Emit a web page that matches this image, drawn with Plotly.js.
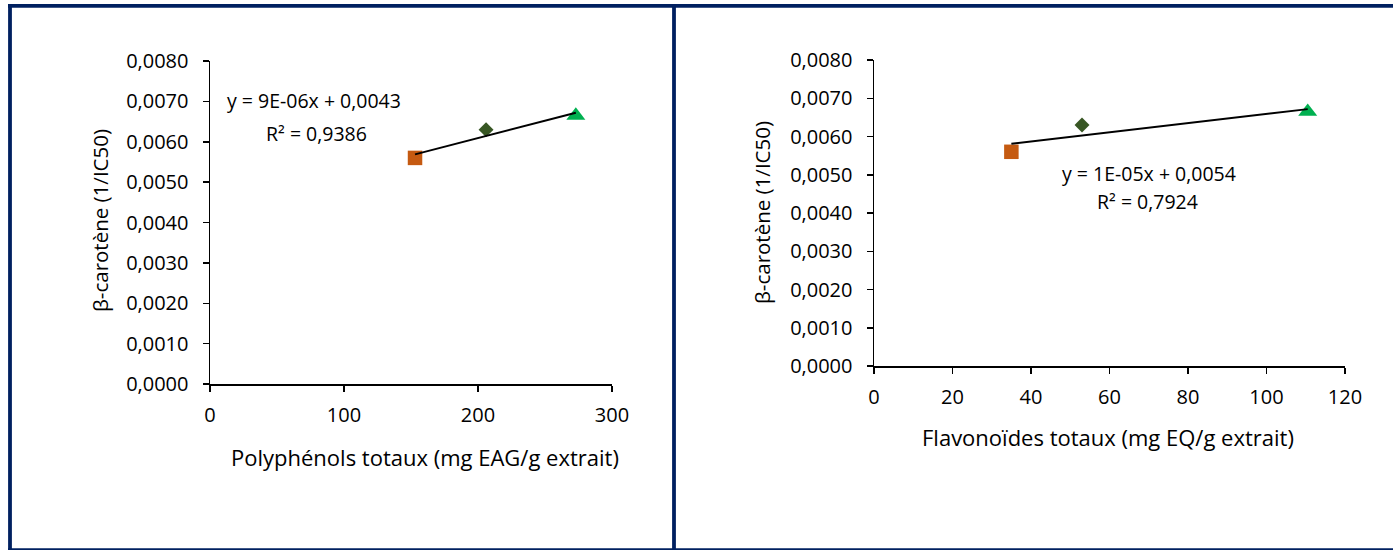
<!DOCTYPE html>
<html><head><meta charset="utf-8">
<script src="https://cdn.plot.ly/plotly-3.0.1.min.js"></script>
<style>html,body{margin:0;padding:0;background:#fff}#chart{width:1393px;height:550px}</style>
</head><body><div id="chart"></div><script>
// ---- data ----
const sampleNames = ['Échantillon 1', 'Échantillon 2', 'Échantillon 3'];
const polyphenols = [153, 206, 273];          // mg EAG/g extrait
const flavonoids = [35, 53, 110.5];           // mg EQ/g extrait
const betaCarotene = [0.0056, 0.0063, 0.00665]; // 1/IC50
const markerSymbols = ['square', 'diamond', 'triangle-up'];
const markerColors = ['#C55A11', '#375623', '#00B050'];
const yTicks = [0, 0.001, 0.002, 0.003, 0.004, 0.005, 0.006, 0.007, 0.008];
const yTickLabels = ['0,0000', '0,0010', '0,0020', '0,0030', '0,0040', '0,0050', '0,0060', '0,0070', '0,0080'];
const xTicksLeft = [0, 100, 200, 300];
const xTicksRight = [0, 20, 40, 60, 80, 100, 120];
const equationLeft = ['y = 9E-06x + 0,0043', 'R² = 0,9386'];
const equationRight = ['y = 1E-05x + 0,0054', 'R² = 0,7924'];
const yTitle = 'β-carotène (1/IC50)';
const xTitleLeft = 'Polyphénols totaux (mg EAG/g extrait)';
const xTitleRight = 'Flavonoïdes totaux (mg EQ/g extrait)';

// ---- helpers ----
const W = 1393, H = 550;
const px = x => x / W;
const py = y => 1 - y / H;
function linfit(xs, ys) {
  const n = xs.length;
  const mx = xs.reduce((a, b) => a + b, 0) / n;
  const my = ys.reduce((a, b) => a + b, 0) / n;
  let sxx = 0, sxy = 0;
  for (let i = 0; i < n; i++) { sxx += (xs[i] - mx) ** 2; sxy += (xs[i] - mx) * (ys[i] - my); }
  const m = sxy / sxx;
  return { m, b: my - m * mx };
}
function trend(xs, ys, xa, ya) {
  const f = linfit(xs, ys);
  const x0 = Math.min(...xs), x1 = Math.max(...xs);
  return { x: [x0, x1], y: [f.m * x0 + f.b, f.m * x1 + f.b], mode: 'lines', type: 'scatter',
    xaxis: xa, yaxis: ya, line: { color: '#000', width: 2 }, hoverinfo: 'skip', showlegend: false };
}
function pts(xs, ys, xa, ya) {
  return { x: xs, y: ys, text: sampleNames, mode: 'markers', type: 'scatter', xaxis: xa, yaxis: ya,
    marker: { symbol: markerSymbols, color: markerColors, size: [14.5, 11.5, 16.5], opacity: 1, line: { width: 0 } },
    showlegend: false };
}

const FONT = 'Open Sans, Noto Sans, sans-serif';
const tickFont = { family: FONT, size: 20, color: '#000' };
const eqFont = { family: FONT, size: 19.5, color: '#000' };
const xTitleFont = { family: FONT, size: 22, color: '#000' };
const yTitleFont = { family: FONT, size: 20.5, color: '#000' };

const baseX = { showline: true, linecolor: '#000', linewidth: 1.5, ticks: 'outside', ticklen: 6,
  tickcolor: '#000', tickwidth: 1.5, showgrid: false, zeroline: false, tickfont: tickFont,
  ticklabelstandoff: 6, fixedrange: true };
const baseY = Object.assign({}, baseX, { range: [0, 0.008], tickvals: yTicks, ticktext: yTickLabels,
  ticklabelstandoff: 10 });

const data = [
  pts(polyphenols, betaCarotene, 'x', 'y'),
  trend(polyphenols, betaCarotene, 'x', 'y'),
  pts(flavonoids, betaCarotene, 'x2', 'y2'),
  trend(flavonoids, betaCarotene, 'x2', 'y2')
];

const navy = '#002060';
const layout = {
  width: W, height: H, margin: { l: 0, r: 0, t: 0, b: 0 },
  paper_bgcolor: '#fff', plot_bgcolor: 'rgba(0,0,0,0)', showlegend: false,
  font: { family: FONT, color: '#000' },
  xaxis: Object.assign({}, baseX, { domain: [px(210), px(612)], range: [0, 300], tickvals: xTicksLeft, anchor: 'y' }),
  yaxis: Object.assign({}, baseY, { domain: [py(384), py(61)], anchor: 'x' }),
  xaxis2: Object.assign({}, baseX, { domain: [px(874), px(1345)], range: [0, 120], tickvals: xTicksRight, anchor: 'y2' }),
  yaxis2: Object.assign({}, baseY, { domain: [py(366), py(60)], anchor: 'x2' }),
  shapes: [
    { type: 'line', xref: 'paper', yref: 'paper', x0: px(8), x1: 1, y0: py(5.8), y1: py(5.8), line: { color: navy, width: 3.7 } },
    { type: 'line', xref: 'paper', yref: 'paper', x0: px(10), x1: px(10), y0: py(4), y1: 0, line: { color: navy, width: 3.8 } },
    { type: 'line', xref: 'paper', yref: 'paper', x0: px(674), x1: px(674), y0: py(4), y1: 0, line: { color: navy, width: 3.8 } },
    { type: 'line', xref: 'paper', yref: 'paper', x0: px(8), x1: 1, y0: py(549.2), y1: py(549.2), line: { color: navy, width: 2 } }
  ],
  annotations: [
    { text: yTitle, xref: 'paper', yref: 'paper', x: px(100), y: py(221), textangle: -90, showarrow: false, font: yTitleFont, xanchor: 'center', yanchor: 'middle' },
    { text: yTitle, xref: 'paper', yref: 'paper', x: px(762), y: py(213), textangle: -90, showarrow: false, font: yTitleFont, xanchor: 'center', yanchor: 'middle' },
    { text: xTitleLeft, xref: 'paper', yref: 'paper', x: px(425), y: py(457), showarrow: false, font: xTitleFont, xanchor: 'center', yanchor: 'middle' },
    { text: xTitleRight, xref: 'paper', yref: 'paper', x: px(1108), y: py(437), showarrow: false, font: xTitleFont, xanchor: 'center', yanchor: 'middle' },
    { text: equationLeft[0], xref: 'paper', yref: 'paper', x: px(314), y: py(100), showarrow: false, font: eqFont, xanchor: 'center', yanchor: 'middle' },
    { text: equationLeft[1], xref: 'paper', yref: 'paper', x: px(316), y: py(133), showarrow: false, font: eqFont, xanchor: 'center', yanchor: 'middle' },
    { text: equationRight[0], xref: 'paper', yref: 'paper', x: px(1149), y: py(173), showarrow: false, font: eqFont, xanchor: 'center', yanchor: 'middle' },
    { text: equationRight[1], xref: 'paper', yref: 'paper', x: px(1147), y: py(201), showarrow: false, font: eqFont, xanchor: 'center', yanchor: 'middle' }
  ]
};
Plotly.newPlot('chart', data, layout, { staticPlot: true, displayModeBar: false });
</script></body></html>
